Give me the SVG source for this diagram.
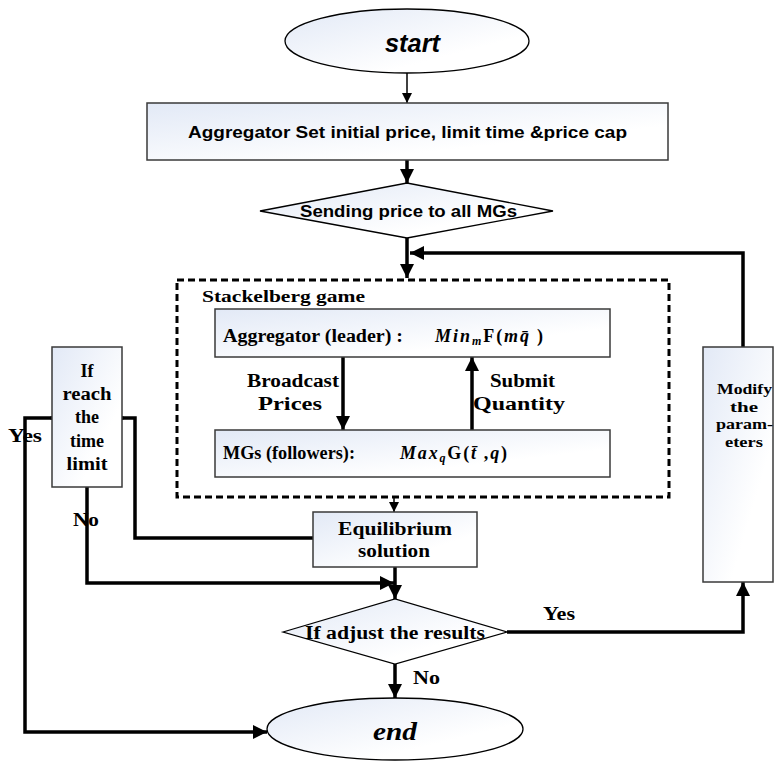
<svg xmlns="http://www.w3.org/2000/svg" width="774" height="763" viewBox="0 0 774 763">
<defs>
<linearGradient id="fill" x1="0" y1="0" x2="1" y2="1">
<stop offset="0" stop-color="#e2e9f6"/>
<stop offset="0.7" stop-color="#ffffff"/>
</linearGradient>
<marker id="ah" markerUnits="userSpaceOnUse" markerWidth="14" markerHeight="14" viewBox="0 0 14 14" refX="14" refY="7" orient="auto">
<path d="M0,0 L14,7 L0,14 z" fill="#000"/>
</marker>
<marker id="ahs" markerUnits="userSpaceOnUse" markerWidth="10" markerHeight="10" viewBox="0 0 10 10" refX="10" refY="5" orient="auto">
<path d="M0,0 L10,5 L0,10 z" fill="#000"/>
</marker>
</defs>
<style>
.shape{fill:url(#fill);stroke:#000;stroke-width:1.3}
.box{fill:url(#fill);stroke:#3a3a3a;stroke-width:1.5}
.thick{fill:none;stroke:#000;stroke-width:3.5;marker-end:url(#ah)}
.thin{fill:none;stroke:#000;stroke-width:1.5;marker-end:url(#ahs)}
.plain{fill:none;stroke:#000;stroke-width:3.5}
.sans{font-family:"Liberation Sans",Arial,sans-serif;font-weight:bold;fill:#000}
.serif{font-family:"Liberation Serif","Times New Roman",serif;font-weight:bold;fill:#000}
.it{font-style:italic}
</style>
<rect width="774" height="763" fill="#fff"/>

<g id="connectors">
<line class="thin" x1="407" y1="73" x2="407" y2="103"/>
<line class="thick" x1="407" y1="160" x2="407" y2="183"/>
<line class="thick" x1="407" y1="238" x2="407" y2="278"/>
<polyline class="thick" points="743,347 743,253 410,253"/>
<line class="thick" x1="343" y1="357" x2="343" y2="430"/>
<line class="thick" x1="472" y1="430" x2="472" y2="357"/>
<line class="thin" x1="394" y1="497" x2="394" y2="512"/>
<polyline class="plain" points="313,538 135,538 135,418 122,418"/>
<polyline class="thick" points="52,418 25,418 25,732 267,732"/>
<polyline class="thick" points="87,487 87,583 394,583"/>
<line class="thick" x1="395" y1="567" x2="395" y2="599"/>
<polyline class="thick" points="507,632 743,632 743,582"/>
<line class="thick" x1="395" y1="664" x2="395" y2="698"/>
<circle cx="122" cy="418" r="2"/>
<circle cx="52" cy="418" r="2"/>
<text class="serif" x="8" y="442" font-size="18" textLength="34" lengthAdjust="spacingAndGlyphs">Yes</text>
<text class="serif" x="73" y="526" font-size="18" textLength="26" lengthAdjust="spacingAndGlyphs">No</text>
<text class="serif" x="543" y="620" font-size="18" textLength="32" lengthAdjust="spacingAndGlyphs">Yes</text>
<text class="serif" x="413" y="684" font-size="18" textLength="27" lengthAdjust="spacingAndGlyphs">No</text>
<text class="serif" x="247" y="387" font-size="18" textLength="92" lengthAdjust="spacingAndGlyphs">Broadcast</text>
<text class="serif" x="258" y="410" font-size="18" textLength="64" lengthAdjust="spacingAndGlyphs">Prices</text>
<text class="serif" x="490" y="387" font-size="18" textLength="65" lengthAdjust="spacingAndGlyphs">Submit</text>
<text class="serif" x="473" y="410" font-size="18" textLength="92" lengthAdjust="spacingAndGlyphs">Quantity</text>
</g>

<g id="start">
<ellipse class="shape" cx="407" cy="41" rx="122" ry="32"/>
<text class="sans it" x="385" y="52" font-size="25" textLength="55" lengthAdjust="spacingAndGlyphs">start</text>
</g>

<g id="init">
<rect class="box" x="147" y="103" width="521" height="57"/>
<text class="sans" x="188" y="138" font-size="16.5" textLength="439" lengthAdjust="spacingAndGlyphs">Aggregator Set initial price, limit time &amp;price cap</text>
</g>

<g id="send">
<polygon class="shape" points="260,211 407,183 553,211 407,238"/>
<text class="sans" x="300" y="217" font-size="16.5" textLength="217" lengthAdjust="spacingAndGlyphs">Sending price to all MGs</text>
</g>

<g id="stackelberg">
<rect x="177" y="280" width="492" height="217" fill="none" stroke="#000" stroke-width="3" stroke-dasharray="7,4"/>
<text class="serif" x="202" y="302" font-size="17" textLength="163" lengthAdjust="spacingAndGlyphs">Stackelberg game</text>
</g>

<g id="leader">
<rect class="box" x="215" y="309" width="395" height="48"/>
<text class="serif" x="223" y="342" font-size="18" textLength="180" lengthAdjust="spacingAndGlyphs">Aggregator (leader) :</text>
<text class="serif" x="435" y="342" font-size="18" textLength="108" lengthAdjust="spacing"><tspan class="it">Min</tspan><tspan class="it" font-size="12" dy="3">m</tspan><tspan dy="-3">F(</tspan><tspan class="it">m</tspan><tspan class="it">q̄</tspan><tspan dx="6">)</tspan></text>
</g>

<g id="followers">
<rect class="box" x="215" y="430" width="395" height="47"/>
<text class="serif" x="223" y="459" font-size="18" textLength="132" lengthAdjust="spacingAndGlyphs">MGs (followers):</text>
<text class="serif" x="400" y="459" font-size="18" textLength="107" lengthAdjust="spacing"><tspan class="it">Max</tspan><tspan class="it" font-size="12" dy="3">q</tspan><tspan dy="-3">G(</tspan><tspan class="it">t̄</tspan><tspan dx="6">,</tspan><tspan class="it">q</tspan>)</text>
</g>

<g id="timelimit">
<rect class="box" x="52" y="347" width="70" height="140"/>
<text class="serif" x="87" y="377" font-size="18" text-anchor="middle">If</text>
<text class="serif" x="87" y="400" font-size="18" text-anchor="middle" textLength="49" lengthAdjust="spacingAndGlyphs">reach</text>
<text class="serif" x="87" y="423" font-size="18" text-anchor="middle">the</text>
<text class="serif" x="87" y="447" font-size="18" text-anchor="middle">time</text>
<text class="serif" x="87" y="470" font-size="18" text-anchor="middle" textLength="41" lengthAdjust="spacingAndGlyphs">limit</text>
</g>

<g id="modify">
<rect class="box" x="703" y="347" width="70" height="235"/>
<text class="serif" x="717" y="394" font-size="14" textLength="55" lengthAdjust="spacingAndGlyphs">Modify</text>
<text class="serif" x="730" y="412" font-size="14" textLength="28" lengthAdjust="spacingAndGlyphs">the</text>
<text class="serif" x="716" y="429" font-size="14" textLength="57" lengthAdjust="spacingAndGlyphs">param-</text>
<text class="serif" x="725" y="447" font-size="14" textLength="38" lengthAdjust="spacingAndGlyphs">eters</text>
</g>

<g id="equilibrium">
<rect class="box" x="313" y="512" width="164" height="55"/>
<text class="serif" x="338" y="535" font-size="19" textLength="114" lengthAdjust="spacingAndGlyphs">Equilibrium</text>
<text class="serif" x="358" y="557" font-size="19" textLength="72" lengthAdjust="spacingAndGlyphs">solution</text>
</g>

<g id="adjust">
<polygon class="shape" points="283,632 395,599 507,632 395,664"/>
<text class="serif" x="305" y="639" font-size="18" textLength="180" lengthAdjust="spacingAndGlyphs">If adjust the results</text>
</g>

<g id="end">
<ellipse class="shape" cx="395" cy="729" rx="128" ry="31"/>
<text class="serif it" x="373" y="740" font-size="26" textLength="44" lengthAdjust="spacingAndGlyphs">end</text>
</g>
</svg>
